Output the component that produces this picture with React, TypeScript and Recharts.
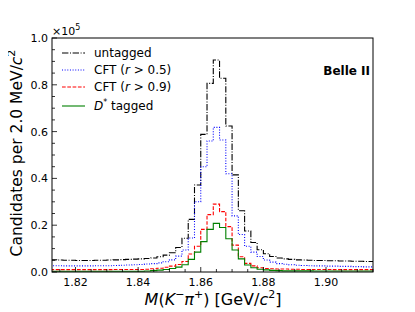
import { LineChart, Line, XAxis, YAxis } from "recharts";

// bin edges in GeV (2 MeV bins); last edge closes the final step
const BIN_EDGES = [
  1.812, 1.814, 1.816, 1.818, 1.82, 1.822, 1.824, 1.826, 1.828, 1.83,
  1.832, 1.834, 1.836, 1.838, 1.84, 1.842, 1.844, 1.846, 1.848, 1.85,
  1.852, 1.854, 1.856, 1.858, 1.86, 1.862, 1.864, 1.866, 1.868, 1.87,
  1.872, 1.874, 1.876, 1.878, 1.88, 1.882, 1.884, 1.886, 1.888, 1.89,
  1.892, 1.894, 1.896, 1.898, 1.9, 1.902, 1.904, 1.906, 1.908, 1.91,
  1.912, 1.914, 1.916,
];

const UNTAGGED = [
  5200, 5100, 5000, 5000, 4900, 4900, 4900, 5000, 5000, 5100,
  5200, 5300, 5400, 5500, 5600, 5800, 6000, 6500, 7200, 8200,
  10500, 14400, 22500, 37200, 58800, 80600, 90600, 82800, 62400, 41500,
  26200, 17500, 12600, 9500, 7800, 6600, 6000, 5600, 5400, 5200,
  5100, 5000, 4900, 4900, 4800, 4800, 4700, 4700, 4600, 4600,
  4500, 4500,
];

const CFT_05 = [
  2700, 2700, 2600, 2600, 2600, 2600, 2600, 2700, 2700, 2700,
  2800, 2900, 3000, 3100, 3200, 3400, 3600, 3900, 4400, 5200,
  6800, 9400, 14500, 30000, 45000, 56000, 61800, 56400, 42000, 24000,
  16000, 11000, 8500, 6600, 5100, 4200, 3600, 3300, 3100, 2900,
  2800, 2700, 2600, 2600, 2500, 2500, 2400, 2400, 2300, 2300,
  2200, 2200,
];

const CFT_09 = [
  1000, 1000, 1000, 1000, 1000, 1000, 1000, 1000, 1000, 1000,
  1100, 1100, 1100, 1100, 1100, 1200, 1400, 1600, 2000, 2500,
  3200, 4500, 7700, 11000, 18200, 24500, 29000, 25800, 19400, 11500,
  6500, 3700, 2600, 1800, 1500, 1400, 1300, 1300, 1200, 1200,
  1100, 1100, 1100, 1100, 1100, 1000, 1000, 1000, 1000, 1000,
  1000, 1000,
];

const DSTAR = [
  300, 300, 300, 300, 300, 300, 300, 300, 300, 300,
  300, 300, 300, 300, 300, 400, 600, 800, 1100, 1500,
  2100, 3100, 5400, 8500, 13000, 18200, 20800, 19000, 14200, 9400,
  5600, 3000, 1800, 1200, 900, 700, 600, 500, 500, 500,
  500, 500, 400, 400, 400, 400, 400, 400, 400, 400,
  400, 400,
];

const X_MAJOR = [1.82, 1.84, 1.86, 1.88, 1.9];
const X_TICKS = [
  1.815, 1.82, 1.825, 1.83, 1.835, 1.84, 1.845, 1.85, 1.855, 1.86, 1.865,
  1.87, 1.875, 1.88, 1.885, 1.89, 1.895, 1.9, 1.905, 1.91, 1.915,
];
const Y_MAJOR = [0, 20000, 40000, 60000, 80000, 100000];
const Y_TICKS = [
  0, 5000, 10000, 15000, 20000, 25000, 30000, 35000, 40000, 45000, 50000,
  55000, 60000, 65000, 70000, 75000, 80000, 85000, 90000, 95000, 100000,
];

const FONT = "DejaVu Sans";
const W = 400;
const H = 304;
const PLOT = { x: 44, y: 30, w: 321, h: 234 };

const isIn = (list: number[], v: number) => list.some((m) => Math.abs(m - v) < 1e-6);

const XTick = (props: any) => {
  const { x, y, payload } = props;
  const major = isIn(X_MAJOR, payload.value);
  return (
    <g>
      <line x1={x} x2={x} y1={y} y2={y - (major ? 5 : 3)} stroke="#000" strokeWidth={0.8} />
      {major && (
        <text x={x} y={y + 14} textAnchor="middle" fontSize={11} fontFamily={FONT} fill="#000">
          {payload.value.toFixed(2)}
        </text>
      )}
    </g>
  );
};

const YTick = (props: any) => {
  const { x, y, payload } = props;
  const major = isIn(Y_MAJOR, payload.value);
  return (
    <g>
      <line x1={x} x2={x + (major ? 5 : 3)} y1={y} y2={y} stroke="#000" strokeWidth={0.8} />
      {major && (
        <text x={x - 4} y={y + 4} textAnchor="end" fontSize={11} fontFamily={FONT} fill="#000">
          {(payload.value / 100000).toFixed(1)}
        </text>
      )}
    </g>
  );
};

const LEGEND = [
  { key: "untagged", color: "#000000", dash: "6.4 1.6 1 1.6" },
  { key: "cft05", color: "#0000ff", dash: "1 1.65" },
  { key: "cft09", color: "#ff0000", dash: "3.7 1.6" },
  { key: "dstar", color: "#008000", dash: undefined },
];

export default function App() {
  const n = UNTAGGED.length;
  const data = BIN_EDGES.map((m, i) => {
    const k = Math.min(i, n - 1);
    return { m, untagged: UNTAGGED[k], cft05: CFT_05[k], cft09: CFT_09[k], dstar: DSTAR[k] };
  });

  return (
    <div style={{ position: "relative", width: W, height: H, fontFamily: FONT }}>
      <LineChart width={W} height={H} data={data} margin={{ top: 30, right: 35, left: 0, bottom: 0 }}>
        <XAxis
          dataKey="m"
          type="number"
          domain={[1.8125, 1.915]}
          allowDataOverflow
          ticks={X_TICKS}
          interval={0}
          tickSize={0}
          tickMargin={0}
          tickLine={false}
          axisLine={false}
          tick={<XTick />}
          height={40}
        />
        <YAxis
          type="number"
          domain={[0, 100000]}
          allowDataOverflow
          ticks={Y_TICKS}
          interval={0}
          tickSize={0}
          tickMargin={0}
          tickLine={false}
          axisLine={false}
          tick={<YTick />}
          width={44}
        />
        {LEGEND.map((s) => (
          <Line
            key={s.key}
            dataKey={s.key}
            type="stepAfter"
            stroke={s.color}
            strokeWidth={1.1}
            strokeDasharray={s.dash}
            dot={false}
            activeDot={false}
            isAnimationActive={false}
          />
        ))}
      </LineChart>
      <svg
        width={W}
        height={H}
        style={{ position: "absolute", left: 0, top: 0, pointerEvents: "none", overflow: "visible" }}
        fontFamily={FONT}
      >
        <rect x={PLOT.x} y={PLOT.y} width={PLOT.w} height={PLOT.h} fill="none" stroke="#000" strokeWidth={1} />
        <text x={PLOT.x} y={PLOT.y - 3} fontSize={11} fill="#000">
          ×10<tspan dy={-5} fontSize={8}>5</tspan>
        </text>
        <text x={PLOT.x + PLOT.w - 3} y={67} textAnchor="end" fontSize={12} fontWeight="bold" fill="#000">
          Belle II
        </text>
        {/* legend */}
        {LEGEND.map((s, i) => {
          const ly = [45, 62, 79, 98][i];
          return (
            <line key={s.key} x1={54} x2={77} y1={ly} y2={ly} stroke={s.color} strokeWidth={1.1} strokeDasharray={s.dash} />
          );
        })}
        <text x={86} y={49} fontSize={12} fill="#000">untagged</text>
        <text x={86} y={66} fontSize={12} fill="#000">
          CFT (<tspan fontStyle="italic">r</tspan> &gt; 0.5)
        </text>
        <text x={86} y={83} fontSize={12} fill="#000">
          CFT (<tspan fontStyle="italic">r</tspan> &gt; 0.9)
        </text>
        <text x={86} y={102} fontSize={12} fill="#000">
          <tspan fontStyle="italic">D</tspan>
          <tspan dy={-5} fontSize={8}>*</tspan>
          <tspan dy={5}> tagged</tspan>
        </text>
        {/* axis titles */}
        <text
          transform="translate(14,145) rotate(-90)"
          textAnchor="middle"
          fontSize={15.5}
          fill="#000"
        >
          Candidates per 2.0 MeV/<tspan fontStyle="italic">c</tspan>
          <tspan dy={-7} fontSize={11}>2</tspan>
        </text>
        <text x={205} y={297} textAnchor="middle" fontSize={16} fill="#000">
          <tspan fontStyle="italic">M</tspan>(<tspan fontStyle="italic">K</tspan>
          <tspan dy={-7} fontSize={11}>−</tspan>
          <tspan dy={7} fontStyle="italic">π</tspan>
          <tspan dy={-7} fontSize={11}>+</tspan>
          <tspan dy={7}>) [GeV/</tspan>
          <tspan fontStyle="italic">c</tspan>
          <tspan dy={-7} fontSize={11}>2</tspan>
          <tspan dy={7}>]</tspan>
        </text>
      </svg>
    </div>
  );
}
